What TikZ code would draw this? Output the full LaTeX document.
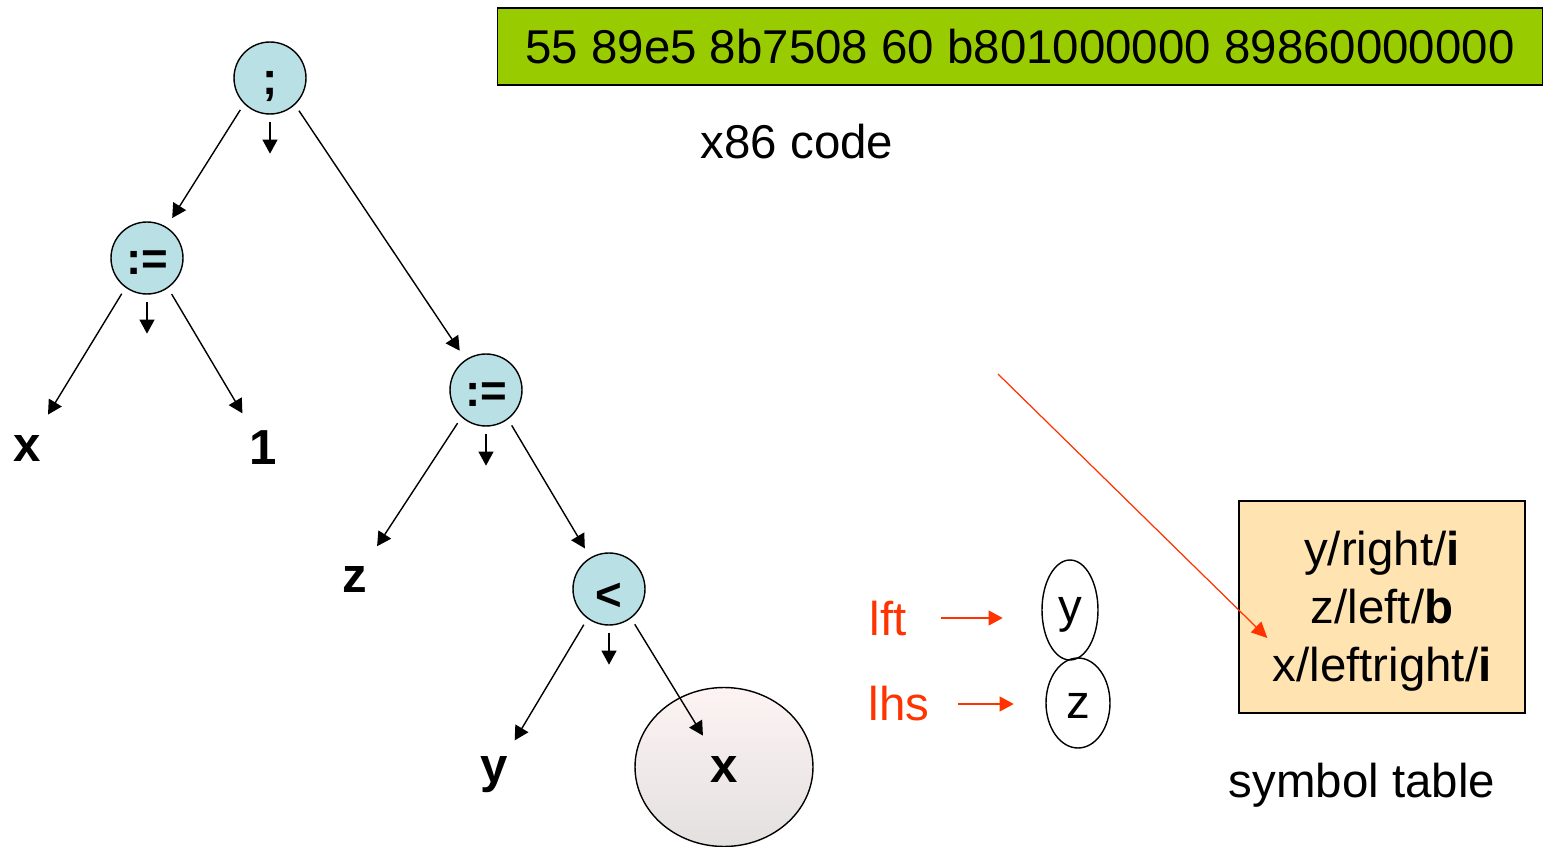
\documentclass[tikz,border=0pt]{standalone}
\usepackage{fontspec}
\setmainfont{Liberation Sans}
\usetikzlibrary{arrows.meta,shapes.geometric,positioning}
\definecolor{opfill}{RGB}{185,224,229}
\definecolor{codefill}{RGB}{153,204,0}
\definecolor{symfill}{RGB}{255,228,178}
\definecolor{hired}{RGB}{255,51,0}
\definecolor{balltop}{RGB}{253,243,243}
\definecolor{ballbot}{RGB}{228,224,224}

\begin{document}
\begin{tikzpicture}[x=0.02cm,y=-0.02cm,
  >={Triangle[length=8pt,width=8.5pt]},
  op/.style={circle,draw,thick,fill=opfill,minimum size=1.44cm,inner sep=0pt,text height=18.5pt,text depth=0pt,font=\fontsize{26}{30}\selectfont\bfseries},
  leaf/.style={circle,minimum size=1.6cm,inner sep=0pt,font=\fontsize{28}{32}\selectfont\bfseries},
  link/.style={->,thick,shorten <=4pt},
  plain/.style={font=\fontsize{27}{33}\selectfont},
  redtext/.style={plain,text=hired},
  redlink/.style={->,thick,draw=hired,fill=hired},
  var/.style={ellipse,draw,thick,inner sep=0pt,plain,text depth=0pt}]
\useasboundingbox (0,0) rectangle (1545,847);
\node[draw,thick,fill=codefill,minimum width=20.9cm,minimum height=1.54cm,plain] (code) at (1020,46.5) {55 89e5 8b7508 60 b801000000 89860000000};
\node[plain] (codelbl) at (797,142) {x86 code};
\node[op] (semi) at (270,78) {;};
\node[op] (asgl) at (147,258) {:=};
\node[op] (asgr) at (486,390) {:=};
\node[op,text height=24pt] (lt) at (609,589) {<};
\node[leaf] (xa) at (27,449) {x};
\node[leaf] (one) at (263,448) {1};
\node[leaf] (zl) at (355,580) {z};
\node[leaf] (yl) at (494,775) {y};
\node[ellipse,draw,thick,top color=balltop,bottom color=ballbot,minimum width=3.56cm,minimum height=3.18cm] (xbig) at (724,767) {};
\node[leaf] (xb) at (724,770) {x};
\coordinate[below=0.78cm of semi] (semid);
\coordinate[below=0.78cm of asgl] (asgld);
\coordinate[below=0.78cm of asgr] (asgrd);
\coordinate[below=0.78cm of lt] (ltd);
\draw[link,shorten >=6pt] (semi.225) -- (asgl);
\draw[link] (semi.south) -- (semid);
\draw[link,shorten >=6pt] (semi.313) -- (asgr);
\draw[link] (asgl.234) -- (xa);
\draw[link] (asgl.south) -- (asgld);
\draw[link] (asgl.305) -- (one);
\draw[link] (asgr.228) -- (zl);
\draw[link] (asgr.south) -- (asgrd);
\draw[link,shorten >=6pt] (asgr.307) -- (lt);
\draw[link] (lt.234) -- (yl);
\draw[link] (lt.south) -- (ltd);
\draw[link] (lt.307) -- (xb);
\node[redtext] (lft) at (888,618) {lft};
\node[redtext] (lhs) at (899,704) {lhs};
\node[var,text height=14pt,minimum width=1.12cm,minimum height=2cm] (yv) at (1070,610) {y};
\node[var,text height=17.4pt,minimum width=1.28cm,minimum height=1.8cm] (zv) at (1078,703) {z};
\draw[redlink,shorten <=16pt,shorten >=22pt] (lft.east) -- (lft.east -| yv.west);
\draw[redlink,shorten <=13pt,shorten >=18pt] (lhs.east) -- (lhs.east -| zv.west);
\node[draw,thick,fill=symfill,minimum width=5.72cm,minimum height=4.24cm] (symtab) at (1382,607) {};
\node[plain,align=center] (symtxt) at (1382,611) {y/right/\textbf{i}\\z/left/\textbf{b}\\x/leftright/\textbf{i}};
\node[plain] (symlbl) at (1362,785) {symbol table};
\coordinate (redtail) at (998,374);
\coordinate (redhead) at ([xshift=0.58cm,yshift=-0.62cm]symtab.west);
\draw[-{Triangle[length=9pt,width=8.5pt]},line width=0.7pt,draw=hired,fill=hired] (redtail) -- (redhead);
\end{tikzpicture}
\end{document}
